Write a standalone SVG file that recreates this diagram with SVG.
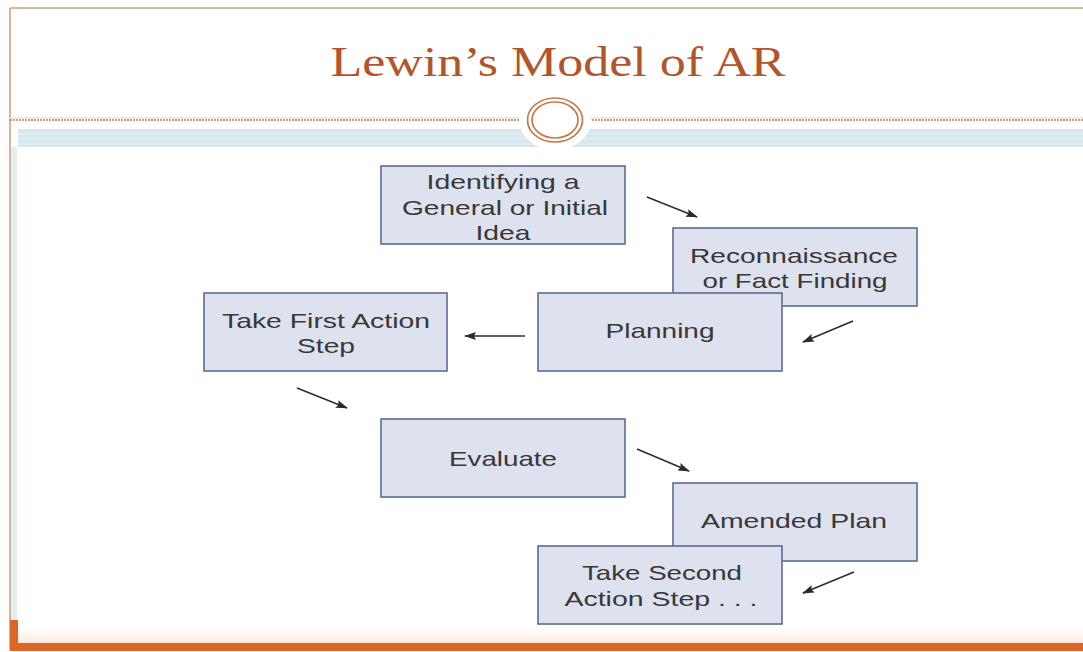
<svg xmlns="http://www.w3.org/2000/svg" width="1083" height="652" viewBox="0 0 1083 652">
<defs>
<marker id="ah" viewBox="0 0 12 8" refX="11" refY="4" markerWidth="12" markerHeight="8" markerUnits="userSpaceOnUse" orient="auto">
<path d="M0,0 L12,4 L0,8 L2,4 Z" fill="#2b2b2b"/>
</marker>
<linearGradient id="bot" x1="0" y1="0" x2="0" y2="1">
<stop offset="0" stop-color="#ffffff" stop-opacity="0"/>
<stop offset="1" stop-color="#fbe6d8"/>
</linearGradient>
</defs>
<style>
.box{fill:#dee1ee;stroke:#5b6c98;stroke-width:1.6}
.t{font-family:"Liberation Sans",Arial,sans-serif;font-size:21px;fill:#383838;text-anchor:middle}
.c{stroke:#2b2b2b;stroke-width:1.5;fill:none;marker-end:url(#ah)}
</style>
<rect x="0" y="0" width="1083" height="652" fill="#ffffff"/>
<g id="frame">
<line x1="10" y1="8" x2="1083" y2="8" stroke="#cf9a78" stroke-width="1.5"/>
<line x1="10" y1="8" x2="10" y2="650" stroke="#cf9a78" stroke-width="1.5"/>
<rect x="11" y="147" width="6" height="475" fill="#e4eef2"/>
<rect x="18" y="622" width="1065" height="21" fill="url(#bot)"/>
<rect x="10" y="643" width="1073" height="8" fill="#dc6528"/>
<rect x="10" y="620" width="8" height="31" fill="#dc6528"/>
<line x1="10" y1="118" x2="1083" y2="118" stroke="#fbe7d9" stroke-width="2"/>
<line x1="10" y1="120" x2="1083" y2="120" stroke="#9c8b7c" stroke-width="1.4" stroke-dasharray="2 1"/>
<rect x="18" y="129" width="1065" height="18" fill="#d6e7ee"/>
<line x1="18" y1="134" x2="1083" y2="134" stroke="#e7f1f5" stroke-width="1"/>
<line x1="18" y1="139" x2="1083" y2="139" stroke="#e7f1f5" stroke-width="1"/>
<line x1="18" y1="144" x2="1083" y2="144" stroke="#e7f1f5" stroke-width="1"/>
<ellipse cx="555" cy="120" rx="36" ry="30" fill="#ffffff"/>
<ellipse cx="555" cy="120" rx="27.5" ry="22" fill="#ffffff" stroke="#c7794a" stroke-width="1.7"/>
<ellipse cx="555" cy="120" rx="23" ry="18" fill="#ffffff" stroke="#c7794a" stroke-width="1.7"/>
</g>
<g id="title">
<text x="558" y="76" font-family="'Liberation Serif','Times New Roman',serif" font-size="42" fill="#b3552a" text-anchor="middle" textLength="455" lengthAdjust="spacingAndGlyphs">Lewin’s Model of AR</text>
</g>
<g id="connectors">
<line class="c" x1="647" y1="197" x2="697" y2="217"/>
<line class="c" x1="853" y1="321" x2="803" y2="342"/>
<line class="c" x1="525" y1="336" x2="465" y2="336"/>
<line class="c" x1="297" y1="388" x2="347" y2="408"/>
<line class="c" x1="637" y1="449" x2="689" y2="471"/>
<line class="c" x1="854" y1="572" x2="803" y2="593"/>
</g>
<g id="n1">
<rect class="box" x="381" y="166" width="244" height="78"/>
<text class="t" x="503" y="189" textLength="153" lengthAdjust="spacingAndGlyphs">Identifying a</text>
<text class="t" x="505" y="215" textLength="206" lengthAdjust="spacingAndGlyphs">General or Initial</text>
<text class="t" x="503" y="240" textLength="55" lengthAdjust="spacingAndGlyphs">Idea</text>
</g>
<g id="n2">
<rect class="box" x="673" y="228" width="244" height="78"/>
<text class="t" x="794" y="263" textLength="208" lengthAdjust="spacingAndGlyphs">Reconnaissance</text>
<text class="t" x="795" y="288" textLength="185" lengthAdjust="spacingAndGlyphs">or Fact Finding</text>
</g>
<g id="n3">
<rect class="box" x="538" y="293" width="244" height="78"/>
<text class="t" x="660" y="338" textLength="109" lengthAdjust="spacingAndGlyphs">Planning</text>
</g>
<g id="n4">
<rect class="box" x="204" y="293" width="243" height="78"/>
<text class="t" x="326" y="328" textLength="208" lengthAdjust="spacingAndGlyphs">Take First Action</text>
<text class="t" x="326" y="353" textLength="58" lengthAdjust="spacingAndGlyphs">Step</text>
</g>
<g id="n5">
<rect class="box" x="381" y="419" width="244" height="78"/>
<text class="t" x="503" y="466" textLength="108" lengthAdjust="spacingAndGlyphs">Evaluate</text>
</g>
<g id="n6">
<rect class="box" x="673" y="483" width="244" height="78"/>
<text class="t" x="794" y="528" textLength="186" lengthAdjust="spacingAndGlyphs">Amended Plan</text>
</g>
<g id="n7">
<rect class="box" x="538" y="546" width="244" height="78"/>
<text class="t" x="662" y="580" textLength="160" lengthAdjust="spacingAndGlyphs">Take Second</text>
<text class="t" x="661" y="606" textLength="193" lengthAdjust="spacingAndGlyphs">Action Step . . .</text>
</g>
</svg>
